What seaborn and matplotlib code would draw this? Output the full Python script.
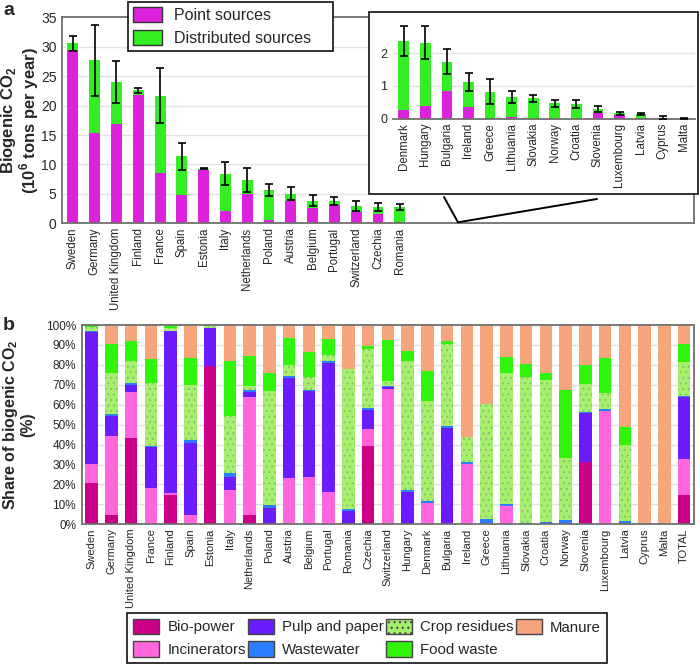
import numpy as np
import matplotlib
matplotlib.use("Agg")
import matplotlib.pyplot as plt
import seaborn as sns
from matplotlib.patches import Patch, Rectangle
from matplotlib.lines import Line2D
from matplotlib.ticker import FuncFormatter

# ---------------- Panel a data (10^6 tons per year) ----------------
main_countries = ["Sweden", "Germany", "United Kingdom", "Finland", "France", "Spain",
                  "Estonia", "Italy", "Netherlands", "Poland", "Austria", "Belgium",
                  "Portugal", "Switzerland", "Czechia", "Romania"]
main_point = [29.4, 15.3, 16.9, 21.8, 8.6, 4.8, 9.1, 2.15, 5.0, 0.62, 3.74, 2.6, 3.11, 1.98, 1.59, 0.23]
main_total = [30.6, 27.7, 24.0, 22.6, 21.7, 11.4, 9.3, 8.4, 7.35, 5.66, 5.04, 3.85, 3.79, 2.89, 2.72, 2.72]
main_err = [1.3, 6.0, 3.55, 0.45, 4.65, 2.3, 0.1, 1.95, 2.1, 1.1, 1.1, 0.9, 0.76, 0.85, 0.68, 0.5]

inset_countries = ["Denmark", "Hungary", "Bulgaria", "Ireland", "Greece", "Lithuania", "Slovakia",
                   "Norway", "Croatia", "Slovenia", "Luxembourg", "Latvia", "Cyprus", "Malta"]
inset_point = [0.28, 0.40, 0.85, 0.35, 0.03, 0.06, 0.0, 0.0, 0.0, 0.18, 0.10, 0.01, 0.0, 0.0]
inset_total = [2.37, 2.33, 1.74, 1.12, 0.83, 0.67, 0.62, 0.47, 0.45, 0.31, 0.16, 0.13, 0.03, 0.01]
inset_err = [0.45, 0.5, 0.38, 0.28, 0.39, 0.19, 0.12, 0.11, 0.12, 0.09, 0.04, 0.03, 0.05, 0.01]

# ---------------- Panel b data (% share) ----------------
b_countries = ["Sweden", "Germany", "United Kingdom", "France", "Finland", "Spain", "Estonia",
               "Italy", "Netherlands", "Poland", "Austria", "Belgium", "Portugal", "Romania",
               "Czechia", "Switzerland", "Hungary", "Denmark", "Bulgaria", "Ireland", "Greece",
               "Lithuania", "Slovakia", "Croatia", "Norway", "Slovenia", "Luxembourg", "Latvia",
               "Cyprus", "Malta", "TOTAL"]
bio_power = [20.5, 4.5, 43.2, 0, 14.9, 0, 79.6, 0, 4.5, 0, 0, 0, 0, 0, 39.5, 0, 0, 0, 0, 0, 0,
             0, 0, 0, 0, 31.3, 0, 0, 0, 0, 14.7]
incinerators = [10.0, 39.7, 23.0, 18.1, 0.8, 4.5, 0, 17.1, 59.5, 0, 23.3, 23.8, 16.2, 0, 8.1, 68.0,
                0, 10.7, 0, 30.2, 0, 9.2, 0, 0, 0, 0, 57.0, 0, 0, 0, 18.0]
pulp_paper = [66.0, 10.2, 3.6, 20.8, 81.3, 36.4, 18.9, 6.7, 2.3, 8.4, 49.9, 43.0, 64.9, 6.7, 10.0,
              1.0, 16.1, 0, 48.4, 0, 0, 0, 0, 0, 0, 24.3, 0, 0, 0, 0, 31.1]
wastewater = [0.3, 0.9, 1.1, 0.6, 0.2, 1.6, 0, 1.8, 0.9, 1.3, 1.0, 0.5, 1.0, 1.0, 0.7, 0.2, 1.0,
              1.0, 0.8, 1.1, 2.8, 1.0, 0.5, 1.2, 2.3, 0.7, 0.8, 1.5, 0, 0, 0.7]
crop_residues = [2.0, 20.6, 11.2, 31.4, 1.3, 27.2, 1.0, 28.8, 2.1, 57.1, 5.5, 6.4, 3.0, 70.0, 29.6,
                 2.7, 65.0, 50.4, 41.3, 12.3, 57.7, 65.7, 73.2, 71.2, 30.9, 14.2, 8.2, 38.2, 0, 0, 16.9]
food_waste = [1.0, 14.7, 10.0, 12.0, 1.0, 13.7, 0.3, 27.3, 15.3, 9.1, 13.9, 12.6, 8.0, 0, 1.7, 20.6,
              4.7, 14.6, 1.6, 0, 0, 7.9, 6.7, 3.6, 34.3, 9.2, 17.6, 8.9, 0, 0, 9.2]
manure = [0.2, 9.4, 7.9, 17.1, 0.5, 16.6, 0.2, 18.3, 15.4, 24.1, 6.4, 13.7, 6.9, 22.3, 10.4, 7.5,
          13.2, 23.3, 7.9, 56.4, 39.5, 16.2, 19.6, 24.0, 32.5, 20.3, 16.4, 51.4, 100, 100, 9.4]

layer_names = ["Bio-power", "Incinerators", "Pulp and paper", "Wastewater",
               "Crop residues", "Food waste", "Manure"]
layer_colors = ["#CC0088", "#FF66DD", "#6A1CFF", "#2B7FFF", "#A6F06E", "#2EF50A", "#F6A57C"]
point_color = "#DD22DD"
dist_color = "#33EE22"

# ---------------- style ----------------
sns.set_theme(style="whitegrid")
plt.rcParams["font.family"] = ["Liberation Sans", "DejaVu Sans"]
plt.rcParams["mathtext.fontset"] = "custom"
plt.rcParams["mathtext.rm"] = "Liberation Sans"
plt.rcParams["mathtext.bf"] = "Liberation Sans:bold"
plt.rcParams["hatch.linewidth"] = 0.8
spine_col = "#707070"
grid_col = "#E2E2E2"

W, H = 700, 665
fig = plt.figure(figsize=(7.0, 6.65), dpi=100)


def fx(px):
    return px / W


def fy(py):
    return 1 - py / H


def style_axes(ax):
    for s in ax.spines.values():
        s.set_visible(True)
        s.set_color(spine_col)
        s.set_linewidth(1.3)
    ax.grid(axis="y", color=grid_col, linewidth=1.0)
    ax.grid(axis="x", visible=False)
    ax.tick_params(length=0, pad=2)
    ax.set_xlabel("")
    ax.set_facecolor("white")


# ---------------- Panel a main ----------------
ax_a = fig.add_axes([fx(62), fy(223.3), fx(694 - 62), (223.3 - 17.3) / H])
sns.barplot(x=main_countries, y=main_total, order=main_countries, color=dist_color,
            saturation=1, width=0.5, errorbar=None, linewidth=0, ax=ax_a)
sns.barplot(x=main_countries, y=main_point, order=main_countries, color=point_color,
            saturation=1, width=0.5, errorbar=None, linewidth=0, ax=ax_a)
ax_a.errorbar(np.arange(len(main_countries)), main_total, yerr=main_err, fmt="none",
              ecolor="black", elinewidth=1.2, capsize=3, capthick=1.2, zorder=5)
ax_a.set_xlim(-0.5, 28.5)
ax_a.set_ylim(0, 35)
ax_a.set_yticks(range(0, 36, 5))
style_axes(ax_a)
ax_a.tick_params(axis="y", labelsize=10, pad=4)
ax_a.tick_params(axis="x", labelsize=8.3, rotation=90, pad=3)
ax_a.set_ylabel("Biogenic CO$_\\mathbf{2}$\n(10$^\\mathbf{6}$ tons per year)",
                fontsize=12, fontweight="bold", linespacing=1.0)
ax_a.yaxis.set_label_coords(-0.033, 0.5)

leg_a = ax_a.legend(handles=[Patch(facecolor=point_color, edgecolor="#333333", lw=1),
                             Patch(facecolor=dist_color, edgecolor="#333333", lw=1)],
                    labels=["Point sources", "Distributed sources"],
                    loc="upper left", mode="expand",
                    bbox_to_anchor=(fx(128), fy(55), fx(205), 53 / H),
                    bbox_transform=fig.transFigure, fontsize=11.5, frameon=True,
                    fancybox=False, edgecolor="#111111", framealpha=1,
                    handlelength=1.85, handleheight=1.1, handletextpad=0.7,
                    borderpad=0.3, labelspacing=0.45, borderaxespad=0)
leg_a.get_frame().set_linewidth(1.2)

# inset frame and zoom bracket
fig.add_artist(Rectangle((fx(369), fy(194)), fx(698 - 369), (194 - 12) / H,
                         transform=fig.transFigure, facecolor="white",
                         edgecolor="#222222", linewidth=1.3, zorder=2))
fig.add_artist(Line2D([fx(444), fx(458), fx(597)], [fy(197), fy(222.3), fy(199)],
                      transform=fig.transFigure, color="black", linewidth=1.4, zorder=2.5))

# ---------------- Panel a inset ----------------
ax_in = fig.add_axes([fx(393), fy(118.7), fx(695 - 393), (118.7 - 20.6) / H], zorder=3)
sns.barplot(x=inset_countries, y=inset_total, order=inset_countries, color=dist_color,
            saturation=1, width=0.5, errorbar=None, linewidth=0, ax=ax_in)
sns.barplot(x=inset_countries, y=inset_point, order=inset_countries, color=point_color,
            saturation=1, width=0.5, errorbar=None, linewidth=0, ax=ax_in)
ax_in.errorbar(np.arange(len(inset_countries)), inset_total, yerr=inset_err, fmt="none",
               ecolor="black", elinewidth=1.2, capsize=3, capthick=1.2, zorder=5)
ax_in.set_xlim(-0.5, len(inset_countries) - 0.5)
ax_in.set_ylim(0, 3)
ax_in.set_yticks([0, 1, 2])
style_axes(ax_in)
ax_in.spines["top"].set_visible(False)
ax_in.spines["right"].set_visible(False)
ax_in.spines["left"].set_visible(False)
ax_in.tick_params(axis="y", labelsize=9, pad=4)
ax_in.tick_params(axis="x", labelsize=8.3, rotation=90, pad=3)
ax_in.set_ylabel("")

# ---------------- Panel b ----------------
ax_b = fig.add_axes([fx(81.7), fy(524.3), fx(694 - 81.7), (524.3 - 325) / H])
stack = np.array([bio_power, incinerators, pulp_paper, wastewater,
                  crop_residues, food_waste, manure], dtype=float)
cum = np.cumsum(stack, axis=0)
for i in reversed(range(len(layer_names))):
    n0 = len(ax_b.patches)
    sns.barplot(x=b_countries, y=cum[i], order=b_countries, color=layer_colors[i],
                saturation=1, width=0.64, errorbar=None, linewidth=0, ax=ax_b)
    if layer_names[i] == "Crop residues":
        for p in ax_b.patches[n0:]:
            p.set_hatch("...")
            p.set_edgecolor("#86C466")
            p.set_linewidth(0)
ax_b.set_xlim(-0.5, len(b_countries) - 0.5)
ax_b.set_ylim(0, 100)
ax_b.set_yticks(range(0, 101, 10))
ax_b.yaxis.set_major_formatter(FuncFormatter(lambda v, _: f"{v:.0f}%"))
style_axes(ax_b)
ax_b.tick_params(axis="y", labelsize=8.5, pad=4)
ax_b.tick_params(axis="x", labelsize=8.0, rotation=90, pad=3)
ax_b.set_ylabel("Share of biogenic CO$_\\mathbf{2}$\n(%)", fontsize=11.5,
                fontweight="bold", linespacing=1.0)
ax_b.yaxis.set_label_coords(-0.076, 0.5)

handles_b = []
for name, col in zip(layer_names, layer_colors):
    if name == "Crop residues":
        handles_b.append(Patch(facecolor=col, edgecolor="#444444", lw=1, hatch="..."))
    else:
        handles_b.append(Patch(facecolor=col, edgecolor="#444444", lw=1))
leg_b = fig.legend(handles=handles_b, labels=layer_names, ncol=4, loc="lower left",
                   mode="expand", bbox_to_anchor=(fx(127), fy(663), fx(607 - 127), 56 / H),
                   fontsize=10.8, frameon=True,
                   fancybox=False, edgecolor="#111111", framealpha=1,
                   handlelength=1.75, handleheight=1.2, handletextpad=0.55,
                   columnspacing=0.4, borderpad=0.4, labelspacing=0.45, borderaxespad=0)
leg_b.get_frame().set_linewidth(1.2)

# panel letters
fig.text(fx(3), fy(2), "a", fontsize=14, fontweight="bold", va="top", ha="left")
fig.text(fx(3), fy(317), "b", fontsize=14, fontweight="bold", va="top", ha="left")

fig.savefig("out.png", dpi=100)
